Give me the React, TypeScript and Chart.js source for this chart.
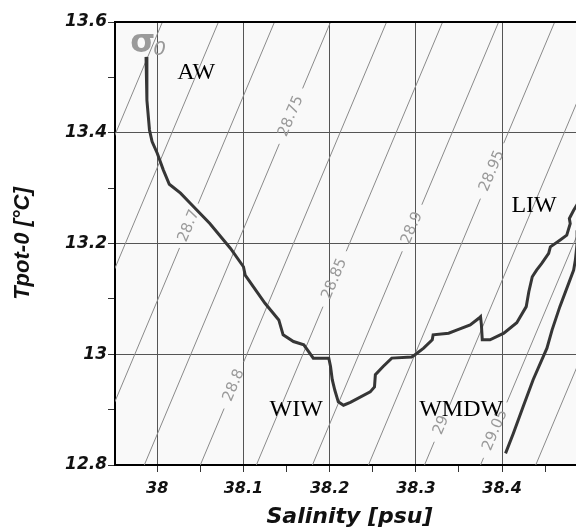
import React, { useEffect, useRef } from 'react';
import { Chart, registerables } from 'chart.js';

Chart.register(...registerables);

// ---- Profile (T-S curve) ----
const salinity = [
  37.987, 37.988, 37.988, 37.991, 37.994, 38.0, 38.007, 38.014, 38.027, 38.038,
  38.061, 38.085, 38.1, 38.102, 38.125, 38.141, 38.146, 38.158, 38.17, 38.181,
  38.199, 38.201, 38.203, 38.206, 38.21, 38.216, 38.224, 38.247, 38.252, 38.253,
  38.262, 38.272, 38.295, 38.299, 38.309, 38.319, 38.32, 38.338, 38.348, 38.363,
  38.373, 38.375, 38.376, 38.377, 38.386, 38.402, 38.417, 38.428, 38.431, 38.435,
  38.44, 38.446, 38.454, 38.456, 38.467, 38.475, 38.479, 38.478, 38.483, 38.488,
  38.492, 38.495, 38.494, 38.488, 38.487, 38.485, 38.483, 38.467, 38.458, 38.452,
  38.436, 38.425, 38.413, 38.404,
];
const temperature = [
  13.537, 13.519, 13.459, 13.405, 13.384, 13.363, 13.333, 13.307, 13.291, 13.273,
  13.236, 13.191, 13.158, 13.143, 13.092, 13.062, 13.035, 13.023, 13.017, 12.993,
  12.993, 12.978, 12.954, 12.935, 12.914, 12.908, 12.913, 12.932, 12.941, 12.963,
  12.978, 12.993, 12.995, 12.999, 13.011, 13.026, 13.035, 13.038, 13.044, 13.053,
  13.065, 13.068, 13.053, 13.026, 13.026, 13.038, 13.057, 13.086, 13.113, 13.14,
  13.152, 13.164, 13.182, 13.194, 13.206, 13.215, 13.236, 13.245, 13.26, 13.273,
  13.276, 13.268, 13.248, 13.224, 13.2, 13.17, 13.152, 13.086, 13.044, 13.011,
  12.954, 12.908, 12.857, 12.821,
];

// ---- Isopycnals (sigma-0) ----
const isoLevels = [28.6, 28.65, 28.7, 28.75, 28.8, 28.85, 28.9, 28.95, 29, 29.05, 29.1];
const isoSalinityAtTmin = [37.79, 37.855, 37.92, 37.985, 38.05, 38.115, 38.18, 38.245, 38.31, 38.375, 38.439];
const isoSalinityAtTmax = [38.006, 38.071, 38.136, 38.201, 38.266, 38.331, 38.396, 38.461, 38.526, 38.591, 38.655];
const isoLabelText = ['', '', '28.7', '28.75', '28.8', '28.85', '28.9', '28.95', '29', '29.05', ''];
const isoLabelT = [0, 0, 13.232, 13.43, 12.944, 13.136, 13.228, 13.331, 12.872, 12.863, 0];
const isoGapHalf = [0, 0, 0.04, 0.05, 0.042, 0.05, 0.042, 0.05, 0.03, 0.05, 0];

// ---- Axes ----
const xMin = 37.951;
const xMax = 38.495;
const yMin = 12.8;
const yMax = 13.6;
const xTickValues = [38, 38.05, 38.1, 38.15, 38.2, 38.25, 38.3, 38.35, 38.4, 38.45];
const xTickLabels = ['38', '', '38.1', '', '38.2', '', '38.3', '', '38.4', ''];
const yTickValues = [12.8, 12.9, 13.0, 13.1, 13.2, 13.3, 13.4, 13.5, 13.6];
const yTickLabels = ['12.8', '', '13', '', '13.2', '', '13.4', '', '13.6'];
const xTitle = 'Salinity [psu]';
const yTitle = 'Tpot-0 [°C]';

// ---- Water mass annotations ----
const annotText = ['AW', 'WIW', 'WMDW', 'LIW'];
const annotS = [38.0452, 38.1612, 38.3525, 38.4371];
const annotT = [13.508, 12.899, 12.899, 13.268];
const sigmaS = 37.9687;
const sigmaT = 13.5458;

const PLOT_BG = '#f9f9f9';

function isoS(i: number, t: number) {
  return isoSalinityAtTmin[i] + ((t - yMin) / (yMax - yMin)) * (isoSalinityAtTmax[i] - isoSalinityAtTmin[i]);
}

const extrasPlugin = {
  id: 'tsExtras',
  beforeDraw(chart: any) {
    const { ctx, chartArea } = chart;
    ctx.save();
    ctx.fillStyle = PLOT_BG;
    ctx.fillRect(chartArea.left, chartArea.top, chartArea.right - chartArea.left, chartArea.bottom - chartArea.top);
    ctx.restore();
  },
  afterDatasetsDraw(chart: any) {
    const { ctx, chartArea } = chart;
    const xs = chart.scales.x;
    const ys = chart.scales.y;
    ctx.save();
    // isopycnal labels
    ctx.fillStyle = '#9a9a9a';
    ctx.font = '15px "DejaVu Sans"';
    ctx.textAlign = 'center';
    ctx.textBaseline = 'middle';
    isoLevels.forEach((_, i) => {
      if (!isoLabelText[i]) return;
      const t = isoLabelT[i];
      const px = xs.getPixelForValue(isoS(i, t));
      const py = ys.getPixelForValue(t);
      const x0 = xs.getPixelForValue(isoSalinityAtTmin[i]);
      const y0 = ys.getPixelForValue(yMin);
      const x1 = xs.getPixelForValue(isoSalinityAtTmax[i]);
      const y1 = ys.getPixelForValue(yMax);
      const ang = Math.atan2(y1 - y0, x1 - x0);
      ctx.save();
      ctx.translate(px, py);
      ctx.rotate(ang);
      ctx.fillText(isoLabelText[i], 0, 0);
      ctx.restore();
    });
    // sigma-0 symbol
    const sx = xs.getPixelForValue(sigmaS);
    const sy = ys.getPixelForValue(sigmaT);
    ctx.textAlign = 'left';
    ctx.textBaseline = 'alphabetic';
    ctx.font = 'bold 32px "DejaVu Sans"';
    ctx.fillText('σ', sx, sy);
    const w = ctx.measureText('σ').width;
    ctx.font = 'italic 20px "DejaVu Sans"';
    ctx.fillText('0', sx + w - 2, sy + 3);
    // water-mass labels
    ctx.fillStyle = '#000';
    ctx.font = '24px "Liberation Serif"';
    ctx.textAlign = 'center';
    ctx.textBaseline = 'middle';
    annotText.forEach((txt, i) => {
      ctx.fillText(txt, xs.getPixelForValue(annotS[i]), ys.getPixelForValue(annotT[i]));
    });
    ctx.restore();
  },
  afterDraw(chart: any) {
    const { ctx, chartArea } = chart;
    ctx.save();
    ctx.strokeStyle = '#000';
    ctx.lineWidth = 2;
    ctx.beginPath();
    ctx.moveTo(chartArea.left - 1, chartArea.top);
    ctx.lineTo(chartArea.right, chartArea.top);
    ctx.stroke();
    ctx.restore();
  },
};

export default function App() {
  const ref = useRef<HTMLCanvasElement | null>(null);
  useEffect(() => {
    if (!ref.current) return;
    const profile = {
      label: 'profile',
      data: salinity.map((s, i) => ({ x: s, y: temperature[i] })),
      borderColor: '#363636',
      borderWidth: 3,
      pointRadius: 0,
      tension: 0,
      fill: false,
      order: 0,
    };
    const isoSets = isoLevels.map((lev, i) => {
      const pts: any[] = [{ x: isoSalinityAtTmin[i], y: yMin }];
      if (isoLabelText[i]) {
        const tLo = isoLabelT[i] - isoGapHalf[i];
        const tHi = isoLabelT[i] + isoGapHalf[i];
        pts.push({ x: isoS(i, tLo), y: tLo });
        pts.push({ x: isoS(i, isoLabelT[i]), y: null });
        pts.push({ x: isoS(i, tHi), y: tHi });
      }
      pts.push({ x: isoSalinityAtTmax[i], y: yMax });
      return {
        label: 'σ0 ' + lev,
        data: pts,
        borderColor: '#8a8a8a',
        borderWidth: 1,
        pointRadius: 0,
        tension: 0,
        spanGaps: false,
        fill: false,
        order: 1,
      };
    });
    const tickFont = (size: number) => ({ family: '"DejaVu Sans"', size, weight: 'bold' as const, style: 'italic' as const });
    const chart = new Chart(ref.current, {
      type: 'line',
      data: { datasets: [profile, ...isoSets] as any },
      options: {
        animation: false,
        responsive: false,
        maintainAspectRatio: false,
        parsing: false as any,
        layout: { padding: { top: 14, right: 0, left: 0, bottom: 0 } },
        plugins: { legend: { display: false }, tooltip: { enabled: false } },
        scales: {
          x: {
            type: 'linear',
            position: 'bottom',
            min: xMin,
            max: xMax,
            afterBuildTicks: (s: any) => { s.ticks = xTickValues.map((v) => ({ value: v })); },
            afterFit: (s: any) => { s.height = 65; },
            ticks: {
              autoSkip: false,
              maxRotation: 0,
              padding: 7,
              color: '#111',
              font: tickFont(16),
              callback: (_v: any, idx: number) => xTickLabels[idx],
            },
            grid: {
              color: (c: any) => (xTickLabels[c.index] ? '#555' : 'rgba(0,0,0,0)'),
              tickColor: '#333',
              tickLength: 7,
              lineWidth: 1,
            },
            border: { display: true, color: '#000', width: 2 },
            title: {
              display: true,
              text: xTitle,
              color: '#111',
              font: tickFont(22),
              padding: { top: 0, bottom: 0 },
            },
          },
          y: {
            type: 'linear',
            position: 'left',
            min: yMin,
            max: yMax,
            afterBuildTicks: (s: any) => { s.ticks = yTickValues.map((v) => ({ value: v })); },
            afterFit: (s: any) => { s.width = 107; },
            ticks: {
              autoSkip: false,
              padding: 1,
              color: '#111',
              font: tickFont(17),
              callback: (_v: any, idx: number) => yTickLabels[idx],
            },
            grid: {
              color: (c: any) => (yTickLabels[c.index] ? '#555' : 'rgba(0,0,0,0)'),
              tickColor: '#333',
              tickLength: 7,
              lineWidth: 1,
            },
            border: { display: true, color: '#000', width: 2 },
            title: {
              display: true,
              text: yTitle,
              color: '#111',
              font: { family: '"Liberation Sans"', size: 22, weight: 'bold', style: 'italic' },
              padding: { top: 2, bottom: 0 },
            },
          },
        },
      } as any,
      plugins: [extrasPlugin],
    });
    return () => chart.destroy();
  }, []);
  return (
    <div style={{ width: 576, height: 522 }}>
      <canvas ref={ref} width={576} height={522} style={{ display: 'block' }} />
    </div>
  );
}
